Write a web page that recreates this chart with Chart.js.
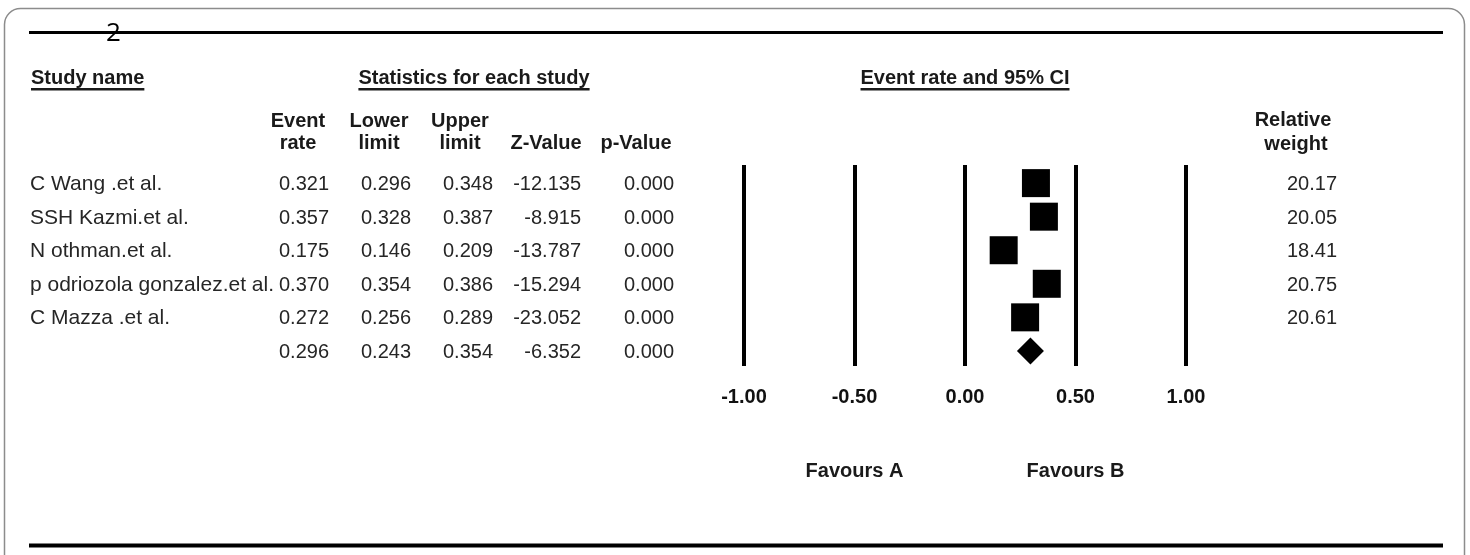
<!DOCTYPE html>
<html>
<head>
<meta charset="utf-8">
<title>Forest plot - event rate and 95% CI</title>
<script src="https://cdn.jsdelivr.net/npm/chart.js@4.4.1/dist/chart.umd.min.js"></script>
<style>
    html, body { margin: 0; padding: 0; background: #fff; }
    #wrap { width: 1470px; height: 555px; position: relative; }
</style>
</head>
<body>
<div id="wrap"><canvas id="forestCanvas" width="1470" height="555"></canvas></div>
<script>
// Forest plot - meta-analysis of event rates
// Values

const studies = ['C Wang .et al.', 'SSH Kazmi.et al.', 'N othman.et al.', 'p odriozola gonzalez.et al.', 'C Mazza .et al.'];
const eventRate = [0.321, 0.357, 0.175, 0.370, 0.272];
const lowerLimit = [0.296, 0.328, 0.146, 0.354, 0.256];
const upperLimit = [0.348, 0.387, 0.209, 0.386, 0.289];
const zValue = [-12.135, -8.915, -13.787, -15.294, -23.052];
const pValue = [0.000, 0.000, 0.000, 0.000, 0.000];
const relWeight = [20.17, 20.05, 18.41, 20.75, 20.61];

// pooled row: event rate, lower, upper, z, p
const pooledStats = [0.296, 0.243, 0.354, -6.352, 0.000];

const axisTicks = [-1, -0.5, 0, 0.5, 1];
const favourLabels = ['Favours A', 'Favours B'];
const favourAt = [-0.5, 0.5];

const FONT = '"Liberation Sans", Arial, sans-serif';
const TEXT = '#262626';

// column positions of the statistics table (right edge of numbers, centre of headers)
const statCols = [
    { head: ['Event', 'rate'], right: 329, center: 298 },
    { head: ['Lower', 'limit'], right: 411, center: 379 },
    { head: ['Upper', 'limit'], right: 493, center: 460 },
    { head: ['', 'Z-Value'], right: 581, center: 546 },
    { head: ['', 'p-Value'], right: 674, center: 636 },
];

function underlined(ctx, text, x, y, align) {
    ctx.textAlign = align;
    ctx.fillText(text, x, y);
    const w = ctx.measureText(text).width;
    const x0 = align === 'center' ? x - w / 2 : x;
    ctx.fillRect(x0, y + 4, w, 2.5);
}

// Frame, rules and the table text around the plot
const tablePlugin = {
    id: 'forestTable',
    beforeDraw(chart) {
        const ctx = chart.ctx;
        ctx.save();
        ctx.strokeStyle = '#8c8c8c';
        ctx.lineWidth = 1.5;
        ctx.beginPath();
        ctx.roundRect(4.5, 8.5, 1460, 620, 16);
        ctx.stroke();

        ctx.fillStyle = '#000';
        ctx.fillRect(29, 31, 1414, 3);
        ctx.fillRect(29, 543.5, 1414, 4);
        ctx.restore();
    },
    afterDraw(chart) {
        const ctx = chart.ctx;
        const x = chart.scales.x;
        const y = chart.scales.y;
        ctx.save();

        // page number sitting on the top rule
        ctx.fillStyle = '#000';
        ctx.font = '26px "Open Sans", sans-serif';
        ctx.textAlign = 'left';
        ctx.textBaseline = 'alphabetic';
        ctx.fillText('2', 106, 41);

        // section headings
        ctx.fillStyle = '#1a1a1a';
        ctx.font = 'bold 20px ' + FONT;
        underlined(ctx, 'Study name', 31, 84, 'left');
        underlined(ctx, 'Statistics for each study', 474, 84, 'center');
        underlined(ctx, 'Event rate and 95% CI', x.getPixelForValue(0), 84, 'center');

        // column headers
        ctx.textAlign = 'center';
        statCols.forEach(col => {
            ctx.fillText(col.head[0], col.center, 127);
            ctx.fillText(col.head[1], col.center, 149);
        });
        ctx.fillText('Relative', 1293, 126);
        ctx.fillText('weight', 1296, 150);

        // study rows
        ctx.fillStyle = TEXT;
        studies.forEach((name, i) => {
            const py = y.getPixelForValue(i) + 7;
            const vals = [eventRate[i], lowerLimit[i], upperLimit[i], zValue[i], pValue[i]];
            ctx.font = '21px ' + FONT;
            ctx.textAlign = 'left';
            ctx.fillText(name, 30, py);
            ctx.font = '20px ' + FONT;
            ctx.textAlign = 'right';
            vals.forEach((v, c) => ctx.fillText(v.toFixed(3), statCols[c].right, py));
            ctx.fillText(relWeight[i].toFixed(2), 1337, py);
        });

        // pooled row
        const pyPooled = y.getPixelForValue(studies.length) + 7;
        ctx.textAlign = 'right';
        pooledStats.forEach((v, c) => ctx.fillText(v.toFixed(3), statCols[c].right, pyPooled));

        // favours labels under the axis
        ctx.fillStyle = '#1a1a1a';
        ctx.font = 'bold 20px ' + FONT;
        ctx.textAlign = 'center';
        favourLabels.forEach((lab, i) => ctx.fillText(lab, x.getPixelForValue(favourAt[i]), 477));

        ctx.restore();
    }
};

function createForestPlot() {
    const canvas = document.getElementById('forestCanvas');
    if (!canvas) return;

    const ctx = canvas.getContext('2d');
    new Chart(ctx, {
        type: 'scatter',
        data: {
            datasets: [{
                label: 'Studies',
                data: eventRate.map((v, i) => ({ x: v, y: i })),
                pointStyle: 'rect',
                pointRadius: 19.8,
                backgroundColor: '#000',
                borderWidth: 0
            }, {
                label: 'Pooled',
                data: [{ x: pooledStats[0], y: studies.length }],
                pointStyle: 'rectRot',
                pointRadius: 13.5,
                backgroundColor: '#000',
                borderWidth: 0
            }]
        },
        options: {
            responsive: false,
            animation: false,
            layout: { padding: { left: 744, right: 284, top: 165, bottom: 127 } },
            plugins: {
                legend: { display: false },
                tooltip: { enabled: false }
            },
            scales: {
                x: {
                    type: 'linear',
                    min: -1,
                    max: 1,
                    afterBuildTicks: axis => { axis.ticks = axisTicks.map(v => ({ value: v })); },
                    ticks: {
                        padding: 19,
                        color: '#111',
                        font: { family: FONT, size: 20, weight: 'bold' },
                        callback: v => Number(v).toFixed(2)
                    },
                    grid: { color: '#000', lineWidth: 4, drawTicks: false },
                    border: { display: false }
                },
                y: {
                    display: false,
                    reverse: true,
                    min: -0.54,
                    max: 5.45
                }
            }
        },
        plugins: [tablePlugin]
    });
}

window.addEventListener('DOMContentLoaded', () => {
    createForestPlot();
});
</script>
</body>
</html>
